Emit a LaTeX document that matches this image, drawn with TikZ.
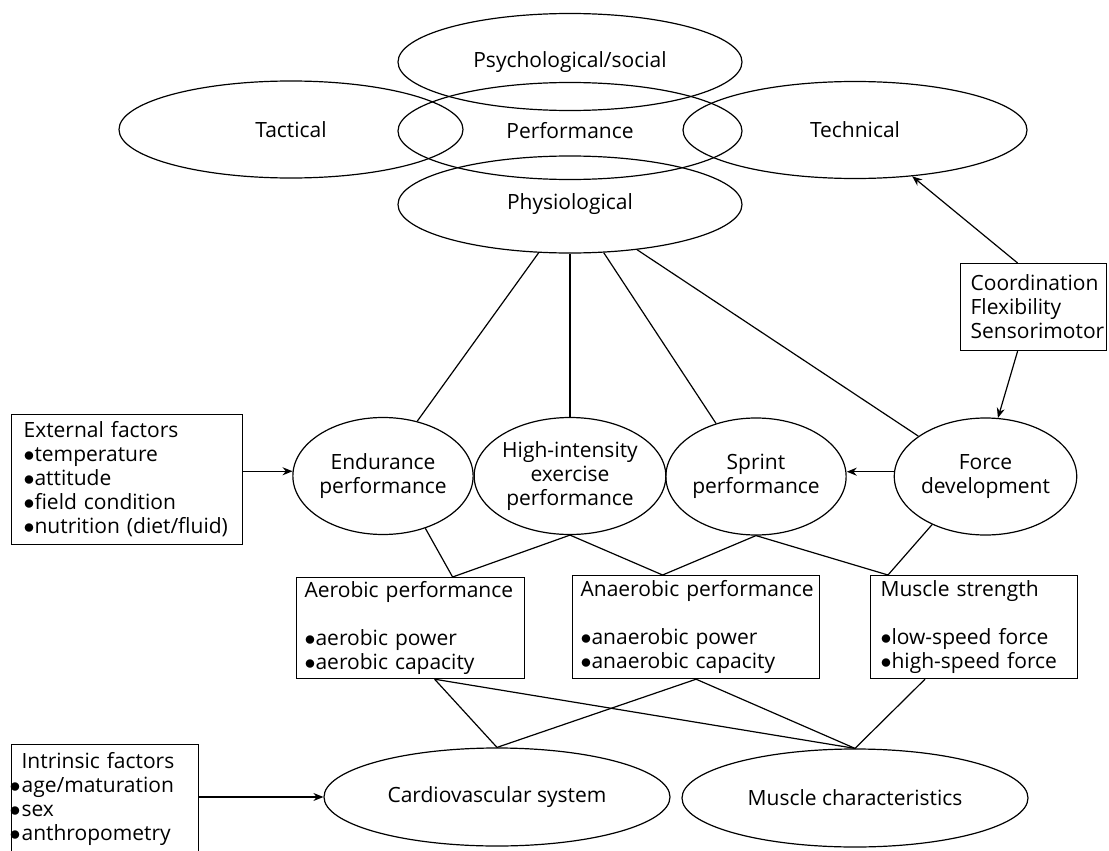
\documentclass[tikz,border=0pt]{standalone}
\usepackage{fontspec}
\setmainfont{Open Sans}
\usetikzlibrary{arrows.meta,shapes.geometric}
\hyphenpenalty=10000
\exhyphenpenalty=10000
\newcommand{\hb}{\leavevmode\llap{$\bullet$\hspace{0.5pt}}}

\begin{document}
\begin{tikzpicture}[x=0.5pt,y=-0.5pt,
  font=\fontsize{10.5}{12}\selectfont,
  line width=0.6pt,
  oval/.style={draw,ellipse,inner sep=0pt,align=center},
  topoval/.style={oval,minimum width=172pt,minimum height=48.5pt},
  midoval/.style={oval,minimum width=90pt,minimum height=58.5pt},
  lowoval/.style={oval,minimum width=173pt,minimum height=49pt},
  box/.style={draw,anchor=north west,align=left,inner xsep=5pt,inner ysep=0pt},
  arr/.style={-{Stealth[length=5pt,width=4pt]}}]
  \useasboundingbox (0,0) rectangle (1109,851);
  % The four sides of performance, overlapping.
  \node[topoval] (psych) at (570,62) {Psychological/social};
  \node[topoval] (tact) at (291,129.5) {Tactical};
  \node[topoval] (perf) at (570,131) {Performance};
  \node[topoval] (tech) at (855,130) {Technical};
  \node[topoval] (phys) at (570,204.5) {Physiological};
  \node[box,text width=63pt,minimum height=43.5pt] (coord) at (960,263)
    {Coordination\\Flexibility\\Sensorimotor};
  % What the physiological side is made of.
  \node[midoval] (endu) at (383,476) {Endurance\\performance};
  \node[midoval] (hiex) at (570,476) {High-intensity\\exercise\\performance};
  \node[midoval] (sprint) at (756,476.5) {Sprint\\performance};
  \node[midoval] (force) at (985.5,476.5) {Force\\development};
  \node[box,inner xsep=6pt,text width=103.5pt,minimum height=65pt] (ext) at (11,414)
    {External factors\\$\bullet$temperature\\$\bullet$attitude\\$\bullet$field condition\\$\bullet$nutrition (diet/fluid)};
  \draw (phys.-123) -- (endu.58.6);
  \draw (phys.south) -- (hiex.north);
  \draw (phys.-55) -- (sprint.127);
  \draw (phys.-34) -- (force.149);
  \draw[arr] (ext.east |- endu.177) -- (endu.177);
  \draw[arr] (force.177) -- (force.177 -| sprint.east);
  \draw[arr] ([xshift=-8pt]coord.north) -- (tech.-39);
  \draw[arr] ([xshift=-8pt]coord.south) -- (force.78);
  % Capacities underneath.
  \node[box,inner xsep=4pt,text width=106pt,minimum height=50.5pt] (aer) at (296,577)
    {Aerobic~performance\\[12pt]$\bullet$aerobic~power\\$\bullet$aerobic~capacity};
  \node[box,inner xsep=4pt,text width=115.5pt,minimum height=51.5pt] (anaer) at (572,575)
    {Anaerobic~performance\\[12pt]$\bullet$anaerobic~power\\$\bullet$anaerobic~capacity};
  \node[box,text width=93.5pt,minimum height=51.5pt] (mstr) at (870,575)
    {Muscle strength\\[12pt]$\bullet$low-speed force\\$\bullet$high-speed force};
  \draw (endu.-51) -- ([xshift=21pt]aer.north) -- (hiex.south)
    -- ([xshift=-16.75pt]anaer.north) -- (sprint.south)
    -- ([xshift=9pt]mstr.north west) -- (force.-138);
  % And the systems at the bottom.
  \node[lowoval] (cardio) at (497,797) {Cardiovascular system};
  \node[lowoval] (musc) at (855,798) {Muscle characteristics};
  \node[box,text width=83.5pt,minimum height=54.5pt] (intr) at (11,744)
    {Intrinsic factors\\\hb age/maturation\\\hb sex\\\hb anthropometry};
  \draw ([xshift=12pt]aer.south) -- (cardio.north) -- (anaer.south)
    -- (musc.north) -- ([xshift=27.5pt]mstr.south west);
  \draw ([xshift=12pt]aer.south) -- (musc.north);
  \draw[arr] (intr.east |- cardio.west) -- (cardio.west);
\end{tikzpicture}
\end{document}
